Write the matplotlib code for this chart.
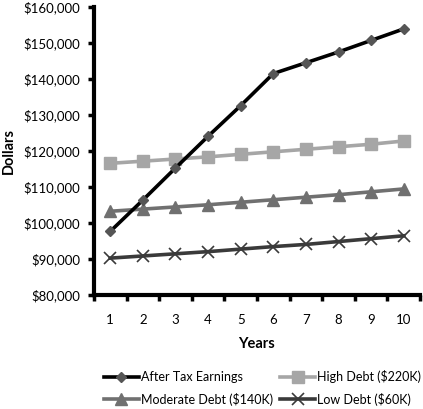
import matplotlib
matplotlib.use("Agg")
import matplotlib.pyplot as plt
from matplotlib.ticker import FuncFormatter, FixedLocator

years = [1, 2, 3, 4, 5, 6, 7, 8, 9, 10]
after_tax = [97600, 106300, 115200, 124000, 132500, 141400, 144400, 147400, 150600, 153800]
high_debt = [116500, 117100, 117700, 118300, 119000, 119700, 120400, 121100, 121800, 122700]
moderate_debt = [103200, 103800, 104400, 105000, 105700, 106400, 107100, 107800, 108600, 109400]
low_debt = [90200, 90800, 91400, 92000, 92700, 93400, 94000, 94800, 95600, 96400]
series_labels = ["After Tax Earnings", "High Debt ($220K)", "Moderate Debt ($140K)", "Low Debt ($60K)"]

plt.rcParams['font.family'] = ['Lato', 'DejaVu Sans']

fig = plt.figure(figsize=(4.23, 4.09), dpi=100)
ax = fig.add_axes([0.222, 0.279, 0.771, 0.705])

l1, = ax.plot(years, after_tax, color='black', lw=2.6, marker='D', ms=5.5,
              mfc='#555555', mec='#555555', zorder=5)
l2, = ax.plot(years, high_debt, color='#a6a6a6', lw=2.6, marker='s', ms=8,
              mfc='#a6a6a6', mec='#a6a6a6', zorder=4)
l3, = ax.plot(years, moderate_debt, color='#707070', lw=2.6, marker='^', ms=8,
              mfc='#707070', mec='#707070', zorder=4)
l4, = ax.plot(years, low_debt, color='#3a3a3a', lw=2.6, marker='x', ms=8, mew=1.2,
              mfc='#3a3a3a', mec='#3a3a3a', zorder=4)

ax.set_xlim(0.5, 10.5)
ax.set_ylim(80000, 160000)
ax.set_yticks(range(80000, 160001, 10000))
ax.yaxis.set_major_formatter(FuncFormatter(lambda v, p: f"${v:,.0f}"))

ax.xaxis.set_major_locator(FixedLocator([i + 0.5 for i in range(0, 11)]))
ax.xaxis.set_major_formatter(FuncFormatter(lambda v, p: ""))
ax.xaxis.set_minor_locator(FixedLocator(years))
ax.xaxis.set_minor_formatter(FuncFormatter(lambda v, p: f"{int(v)}"))
ax.tick_params(axis='x', which='major', length=4, width=2.5, direction='out', color='black')
ax.tick_params(axis='x', which='minor', length=0, labelsize=9.5, pad=14)
ax.tick_params(axis='y', which='major', length=4, width=2.5, direction='out', labelsize=9.5, pad=6)

for s in ['top', 'right']:
    ax.spines[s].set_visible(False)
for s in ['left', 'bottom']:
    ax.spines[s].set_linewidth(3)
    ax.spines[s].set_color('black')

ax.set_xlabel("Years", fontsize=10.5, fontweight='bold', labelpad=8)
ax.set_ylabel("Dollars", fontsize=10.5, fontweight='bold')
ax.yaxis.set_label_coords(-0.24, 0.5)

fig.legend([l1, l3, l2, l4],
           [series_labels[0], series_labels[2], series_labels[1], series_labels[3]],
           loc='upper left',
           bbox_to_anchor=(0.245, 0.095), ncol=2, frameon=False, fontsize=9,
           handlelength=2.8, columnspacing=0.6, labelspacing=0.75, handletextpad=0.15,
           borderaxespad=0, borderpad=0)

fig.savefig("out.png", dpi=100, facecolor='white')
